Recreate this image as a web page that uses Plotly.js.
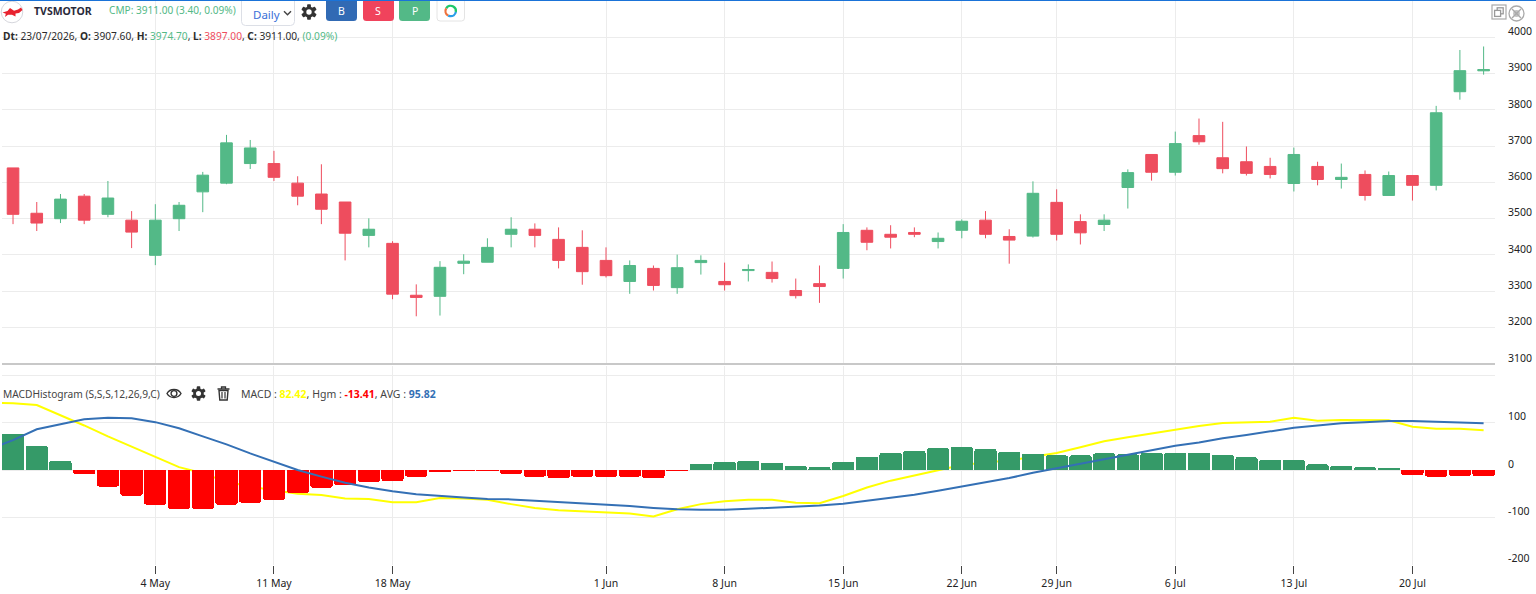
<!DOCTYPE html>
<html><head><meta charset="utf-8">
<script src="https://cdn.plot.ly/plotly-3.0.1.min.js"></script>
<style>html,body{margin:0;padding:0;background:#fff;overflow:hidden}#chart{width:1536px;height:594px}</style>
</head><body><div id="chart"></div>
<script>
// ---------- data ----------
const leadDate = '22 Apr';
const dates = ['23 Apr','24 Apr','27 Apr','28 Apr','29 Apr','30 Apr','4 May','5 May','6 May','7 May','8 May','11 May','12 May','13 May','14 May','15 May','18 May','19 May','20 May','21 May','22 May','26 May','27 May','28 May','29 May','1 Jun','2 Jun','3 Jun','4 Jun','5 Jun','8 Jun','9 Jun','10 Jun','11 Jun','12 Jun','15 Jun','16 Jun','17 Jun','18 Jun','19 Jun','22 Jun','23 Jun','24 Jun','25 Jun','29 Jun','30 Jun','1 Jul','2 Jul','3 Jul','6 Jul','7 Jul','8 Jul','9 Jul','10 Jul','13 Jul','14 Jul','15 Jul','16 Jul','17 Jul','20 Jul','21 Jul','22 Jul','23 Jul'];
const open  = [3640,3515,3500,3562,3512,3496,3399,3500,3574,3598,3652,3652,3598,3568,3546,3454,3432,3289,3286,3377,3380,3457,3471,3443,3421,3385,3327,3363,3310,3379,3327,3357,3352,3302,3321,3363,3468,3457,3462,3437,3468,3496,3451,3452,3545,3492,3484,3586,3677,3628,3729,3668,3657,3644,3597,3644,3608,3622,3564,3619,3592,3850,3907.6];
const high  = [3640,3546,3568,3568,3604,3521,3540,3546,3629,3731,3717,3687,3617,3650,3546,3501,3438,3319,3383,3402,3446,3504,3487,3476,3468,3421,3385,3371,3401,3399,3379,3374,3382,3335,3371,3485,3476,3482,3476,3462,3498,3521,3471,3603,3581,3512,3512,3636,3677,3740,3776,3767,3699,3668,3696,3657,3652,3633,3630,3619,3811,3965,3974.7];
const low   = [3485,3466,3488,3485,3504,3419,3372,3466,3518,3595,3637,3604,3537,3485,3385,3421,3278,3231,3233,3347,3380,3421,3421,3363,3318,3338,3293,3302,3293,3346,3302,3327,3324,3280,3268,3335,3413,3418,3449,3418,3446,3446,3376,3448,3440,3429,3466,3528,3605,3619,3704,3625,3619,3611,3575,3592,3583,3550,3564,3550,3578,3828,3897];
const close = [3512,3488,3554,3496,3557,3463,3496,3537,3620,3709,3695,3614,3562,3526,3460,3471,3292,3283,3366,3383,3421,3471,3454,3385,3354,3343,3371,3316,3365,3385,3318,3360,3335,3288,3313,3462,3435,3449,3457,3446,3493,3457,3441,3570,3457,3461,3496,3627,3628,3707,3712,3638,3625,3622,3677,3608,3614,3564,3619,3592,3792,3908,3911];
const hist  = [76,51,19,-8.5,-35,-54,-73,-82,-82,-73,-69,-63,-48,-37,-31,-25,-23,-14,-3.5,-1.5,-1.5,-8,-14,-17,-14,-14,-14,-17,-1.5,13,17,19,15,8.5,6,17,27.5,36,40,46,48.6,44,38,34,31,31,35,33,36,36,36,32,27,21,21,12,8.5,5.6,4,-10.5,-14,-12,-13.41];
const macd  = [142,141,137,116,94,71,49,27,6,-7,-25,-35,-42,-50,-53,-60,-61,-68,-68,-59,-60,-63,-72,-80,-85,-87,-89,-92,-98,-83,-72,-66,-63,-63,-69,-70,-55,-37,-22.5,-12,0,10.5,16,20,28,36,48,60.5,69,77,86,93,99,100,102,110,104,105.6,105.6,105,91.5,87,87,84];
const avg   = [44,63,86,97,107,110.5,109,101,88,71,54,35,17,0,-14,-27,-37,-45,-51,-55,-58,-61,-62,-65,-67.6,-70,-73,-76,-80,-83,-84,-84,-82,-80,-78,-75,-71,-65,-58,-52,-44,-35,-27,-17,-6,3.5,12.7,23,32,41,51,58,67,74,82,89,94,98.6,101,103.5,103.5,102,100,98.6];
const dateTicks  = ['4 May','11 May','18 May','1 Jun','8 Jun','15 Jun','22 Jun','29 Jun','6 Jul','13 Jul','20 Jul'];
const priceTicks = [3100,3200,3300,3400,3500,3600,3700,3800,3900,4000];
const macdTicks  = [200,100,0,-100,-200];
const macdTickText = ['','100','0','-100','-200'];

// ---------- style ----------
const W=1536,H=594, UP='#53B987', DOWN='#EE4D5E', BLUE='#3470B5';
const FONT='"Noto Sans", "Open Sans", sans-serif', GRID='#ececec', TXT='#2b2b2b';
const allDates=[leadDate].concat(dates);
const pxX=x=>x/W, pxY=y=>1-y/H;

const svg=(x,y,w,h,inner)=>({source:'data:image/svg+xml;utf8,'+encodeURIComponent(`<svg xmlns="http://www.w3.org/2000/svg" width="${w*4}" height="${h*4}" viewBox="0 0 ${w} ${h}">${inner}</svg>`),
  xref:'paper',yref:'paper',x:pxX(x),y:pxY(y),sizex:w/W,sizey:h/H,xanchor:'left',yanchor:'top',sizing:'stretch',layer:'above'});
const gear=c=>{let t='';for(let i=0;i<3;i++)t+=`<rect x="6.1" y="0.2" width="3.8" height="15.6" rx="0.8" fill="${c}" transform="rotate(${i*60} 8 8)"/>`;
  return t+`<circle cx="8" cy="8" r="5.6" fill="${c}"/><circle cx="8" cy="8" r="2.7" fill="#fff"/>`;};
const btn=(c)=>`<rect x="0" y="-5" width="31" height="26" rx="3.5" fill="${c}"/>`;
const arc=(col,start,len)=>`<circle cx="15.7" cy="11" r="5.2" fill="none" stroke="${col}" stroke-width="2.3" pathLength="360" stroke-dasharray="${len} ${360-len}" transform="rotate(${start} 15.7 11)"/>`;
const images=[
  svg(0,0,24,24,`<circle cx="12" cy="12" r="10.8" fill="#fff" stroke="#d0d1d8" stroke-width="0.9"/><path d="M2.5 12.5 L7.5 11 L10 8 L14 10.8 L18 9.5 L21 7.5 L22.5 10 L19 13 L15.5 13.5 L15.5 16.5 L12 14.8 L8 14.8 L5 17 L5.8 13.8 Z" fill="#e8232f"/>`),
  svg(241,0,54,26,`<rect x="0.5" y="-4" width="53" height="29.5" rx="4" fill="#fff" stroke="#dcdfe6"/><path d="M43 11.2 L46.5 14.8 L50 11.2" fill="none" stroke="#444" stroke-width="1.4"/>`),
  svg(301,4,16,16,gear('#333')),
  svg(326,0,31,21,btn('#316AB4')),
  svg(363,0,31,21,btn('#F0435C')),
  svg(399,0,31,21,btn('#53B987')),
  svg(435,0,32,24,`<rect x="2" y="-4" width="27.5" height="25" rx="3" fill="#fff" stroke="#e4e4e4"/>${arc('#1ec86a',210,160)}${arc('#2b9de8',10,110)}${arc('#f0723c',120,90)}`),
  svg(1491,4,16,16,`<rect x="1" y="1" width="14" height="14" fill="#fff" stroke="#aaa" stroke-width="1.2"/><rect x="6.2" y="3.8" width="6" height="6" fill="none" stroke="#999" stroke-width="1.3"/><rect x="3.6" y="6.4" width="6" height="6" fill="#fff" stroke="#999" stroke-width="1.3"/>`),
  svg(1508,5,17,17,`<circle cx="8.5" cy="8.5" r="7.5" fill="#fff" stroke="#aaa" stroke-width="1.3"/><circle cx="8.5" cy="8.5" r="3.4" fill="#c3c3c3"/><path d="M4 4 L13 13 M13 4 L4 13" stroke="#aaa" stroke-width="1.4"/>`),
  svg(166,387,16,13,`<path d="M1 6.5 C4 1.2 12 1.2 15 6.5 C12 11.8 4 11.8 1 6.5 Z" fill="none" stroke="#333" stroke-width="1.4"/><circle cx="8" cy="6.5" r="2.9" fill="none" stroke="#333" stroke-width="1.4"/>`),
  svg(191,386,15,15,`<g transform="scale(0.9375)">${gear('#333')}</g>`),
  svg(217,386,13,15,`<path d="M0.5 3 H12.5 M4.5 3 V1 H8.5 V3" fill="none" stroke="#333" stroke-width="1.3"/><path d="M2 4.5 L2.8 14 H10.2 L11 4.5 Z" fill="none" stroke="#333" stroke-width="1.4"/><path d="M5 6 V12.5 M8 6 V12.5" stroke="#333" stroke-width="1.2"/>`)
];

const note=(x,y,text,size,color,anchor)=>({xref:'paper',yref:'paper',x:pxX(x),y:pxY(y),text:text,showarrow:false,xanchor:anchor||'left',yanchor:'middle',borderpad:0,
  font:{family:FONT,size:size||10.5,color:color||TXT},align:'left'});
const c=(col,t)=>`<span style="color:${col}">${t}</span>`;
const annotations=[
  note(33,11,'<b>TVSMOTOR</b>',10.5,'#2a2a3a'),
  note(108,10,'CMP: 3911.00 (3.40, 0.09%)',10.1,UP),
  note(252,14,'Daily',11.5,'#3a6fd8'),
  note(341.5,11,'B',10.5,'#fff','center'),
  note(378,11,'S',10.5,'#fff','center'),
  note(414.5,11,'P',10.5,'#fff','center'),
  note(2,36,`<b>Dt:</b> 23/07/2026, <b>O:</b> 3907.60, <b>H:</b> ${c(UP,'3974.70')}, <b>L:</b> ${c(DOWN,'3897.00')}, <b>C:</b> 3911.00, ${c(UP,'(0.09%)')}`,10.2,TXT),
  note(2,393.5,'MACDHistogram (S,S,S,12,26,9,C)',10.2,'#444'),
  note(240,393.5,`MACD : <b>${c('#ffff00','82.42')}</b>, Hgm : <b>${c('#ff0000','-13.41')}</b>, AVG : <b>${c(BLUE,'95.82')}</b>`,10.5,'#444')
];

const shapes=[
  {type:'line',xref:'paper',yref:'paper',x0:pxX(2),x1:pxX(1495),y0:pxY(364),y1:pxY(364),line:{color:'#c8c8c8',width:2}},
  {type:'line',xref:'paper',yref:'paper',x0:0,x1:1,y0:pxY(0.5),y1:pxY(0.5),line:{color:'#1a73d8',width:1.2}}
];

// ---------- traces ----------
const traces=[
 {type:'candlestick',x:dates,open:open,high:high,low:low,close:close,xaxis:'x',yaxis:'y',width:0.58,whiskerwidth:0,hoverinfo:'none',
  increasing:{line:{color:UP,width:1},fillcolor:UP},decreasing:{line:{color:DOWN,width:1},fillcolor:DOWN},showlegend:false},
 {type:'scatter',mode:'lines',x:allDates,y:macd,xaxis:'x2',yaxis:'y2',line:{color:'#ffff00',width:2},hoverinfo:'none',showlegend:false},
 {type:'bar',x:dates,y:hist,xaxis:'x2',yaxis:'y3',width:0.94,marker:{color:hist.map(v=>v>=0?'#359A68':'#ff0000'),line:{width:0},cornerradius:2},hoverinfo:'none',showlegend:false},
 {type:'scatter',mode:'lines',x:allDates,y:avg,xaxis:'x2',yaxis:'y3',line:{color:BLUE,width:2},hoverinfo:'none',showlegend:false}
];

const xRange=[0.535,63.48], macdRange=[-200.5,219.5];
const baseX={type:'category',categoryorder:'array',categoryarray:allDates,range:xRange,domain:[pxX(2),pxX(1495)],tickmode:'array',tickvals:dateTicks,ticktext:dateTicks,
  showgrid:true,gridcolor:GRID,gridwidth:1,zeroline:false,showline:false,fixedrange:true};
const tickFont={family:FONT,size:10.5,color:'#222'};
const layout={
  width:W,height:H,margin:{l:0,r:0,t:0,b:0},paper_bgcolor:'#fff',plot_bgcolor:'#fff',showlegend:false,bargap:0,hovermode:false,dragmode:false,barmode:'overlay',
  xaxis:Object.assign({},baseX,{anchor:'y',showticklabels:false,ticks:'',rangeslider:{visible:false}}),
  xaxis2:Object.assign({},baseX,{anchor:'y2',showticklabels:true,ticks:'outside',ticklen:8,tickwidth:1,tickcolor:'#444',tickfont:tickFont}),
  yaxis:{domain:[pxY(364),1],range:[3099.5,4102.8],anchor:'x',side:'right',tickmode:'array',tickvals:priceTicks,ticktext:priceTicks.map(String),gridcolor:GRID,gridwidth:1,zeroline:false,showline:false,ticks:'',tickfont:tickFont,ticklabelstandoff:12,ticklabelshift:-6,fixedrange:true},
  yaxis2:{domain:[pxY(565),pxY(366)],range:macdRange,anchor:'x2',side:'right',tickmode:'array',tickvals:macdTicks,ticktext:macdTickText,gridcolor:GRID,gridwidth:1,zeroline:false,showline:false,ticks:'',tickfont:tickFont,ticklabelstandoff:12,ticklabelshift:-6,fixedrange:true},
  yaxis3:{overlaying:'y2',anchor:'x2',side:'right',range:macdRange,visible:false,showgrid:false,zeroline:false,fixedrange:true},
  shapes:shapes,images:images,annotations:annotations
};
Plotly.newPlot('chart',traces,layout,{displayModeBar:false,staticPlot:true});
</script></body></html>
